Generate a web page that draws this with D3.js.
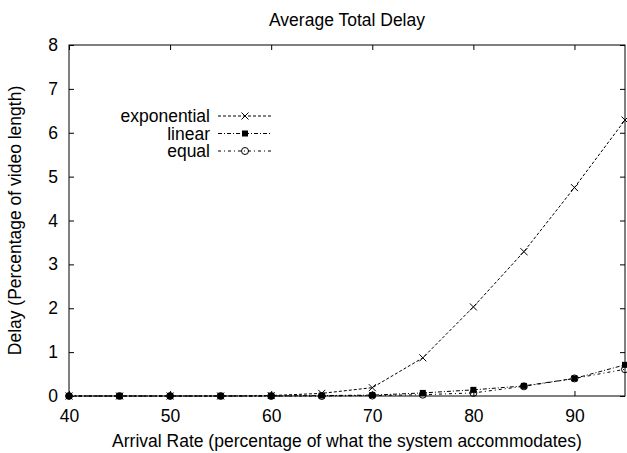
<!DOCTYPE html>
<html>
<head>
<meta charset="utf-8">
<script src="https://cdn.jsdelivr.net/npm/d3@7"></script>
<style>
  body { margin: 0; background: #fff; }
  text { font-family: "Liberation Sans", Arial, sans-serif; fill: #000; }
</style>
</head>
<body>
<svg id="chart" width="627" height="453"></svg>
<script>
// data
var rates = [40, 45, 50, 55, 60, 65, 70, 75, 80, 85, 90, 95];
var exponential = [0, 0, 0, 0, 0.01, 0.06, 0.19, 0.87, 2.03, 3.29, 4.75, 6.29];
var linear = [0, 0, 0, 0, 0, 0.01, 0.02, 0.07, 0.14, 0.23, 0.40, 0.71];
var equal = [0, 0, 0, 0, 0, 0, 0.01, 0.03, 0.07, 0.22, 0.40, 0.61];
var seriesNames = ["exponential", "linear", "equal"];
var xTicks = [40, 50, 60, 70, 80, 90];
var yTicks = [0, 1, 2, 3, 4, 5, 6, 7, 8];

var fs = 17.5;

var svg = d3.select("#chart"),
    margin = {top: 45, right: 2, bottom: 57, left: 69},
    width = +svg.attr("width") - margin.left - margin.right,
    height = +svg.attr("height") - margin.top - margin.bottom,
    g = svg.append("g").attr("transform", "translate(" + margin.left + "," + margin.top + ")");

var x = d3.scaleLinear().domain([40, 95]).range([0, width]);
var y = d3.scaleLinear().domain([0, 8]).range([height, 0]);

var series = [
  {name: seriesNames[0], values: exponential, dash: "3,2", marker: "cross"},
  {name: seriesNames[1], values: linear, dash: "4,2,1,2", marker: "square"},
  {name: seriesNames[2], values: equal, dash: "3,3,1,3", marker: "circle"}
];

// frame and mirrored ticks, gnuplot style
g.append("rect")
    .attr("width", width).attr("height", height)
    .attr("fill", "none").attr("stroke", "#000").attr("stroke-width", 1);

var tl = 5;
g.append("g")
    .attr("transform", "translate(0," + height + ")")
    .call(d3.axisBottom(x).tickValues(xTicks).tickSizeInner(-tl).tickSizeOuter(0).tickPadding(14))
    .call(function(a) { a.select(".domain").remove(); a.selectAll("text").attr("font-size", fs).attr("font-family", "Liberation Sans, Arial, sans-serif"); });
g.append("g")
    .call(d3.axisTop(x).tickValues(xTicks).tickSizeInner(-tl).tickSizeOuter(0).tickFormat(""))
    .call(function(a) { a.select(".domain").remove(); });
g.append("g")
    .call(d3.axisLeft(y).tickValues(yTicks).tickSizeInner(-tl).tickSizeOuter(0).tickPadding(11))
    .call(function(a) { a.select(".domain").remove(); a.selectAll("text").attr("font-size", fs).attr("font-family", "Liberation Sans, Arial, sans-serif"); });
g.append("g")
    .attr("transform", "translate(" + width + ",0)")
    .call(d3.axisRight(y).tickValues(yTicks).tickSizeInner(-tl).tickSizeOuter(0).tickFormat(""))
    .call(function(a) { a.select(".domain").remove(); });

function drawMarker(sel, type) {
  if (type === "cross") {
    sel.append("path").attr("d", "M-3.5,-3.5L3.5,3.5M-3.5,3.5L3.5,-3.5")
      .attr("stroke", "#000").attr("stroke-width", 1).attr("fill", "none");
  } else if (type === "square") {
    sel.append("rect").attr("x", -3).attr("y", -3).attr("width", 6).attr("height", 6).attr("fill", "#000");
  } else {
    sel.append("circle").attr("r", 3.5).attr("fill", "none").attr("stroke", "#000").attr("stroke-width", 1);
  }
}

var line = d3.line()
    .x(function(d, i) { return x(rates[i]); })
    .y(function(d) { return y(d); });

series.forEach(function(s) {
  g.append("path")
      .datum(s.values)
      .attr("d", line)
      .attr("fill", "none")
      .attr("stroke", "#000")
      .attr("stroke-width", 1)
      .attr("stroke-dasharray", s.dash);
  g.selectAll(null)
      .data(s.values)
      .enter().append("g")
      .attr("transform", function(d, i) { return "translate(" + x(rates[i]) + "," + y(d) + ")"; })
      .each(function() { drawMarker(d3.select(this), s.marker); });
});

// legend
var legend = g.selectAll(".legend")
    .data(series)
    .enter().append("g")
    .attr("transform", function(d, i) { return "translate(0," + (71 + i * 17.5) + ")"; });

legend.append("text")
    .attr("x", 141)
    .attr("dy", "0.35em")
    .attr("text-anchor", "end")
    .attr("font-size", fs)
    .text(function(d) { return d.name; });

legend.append("line")
    .attr("x1", 149).attr("x2", 202)
    .attr("stroke", "#000").attr("stroke-width", 1)
    .attr("stroke-dasharray", function(d) { return d.dash; });

legend.append("g")
    .attr("transform", "translate(176,0)")
    .each(function(d) { drawMarker(d3.select(this), d.marker); });

// titles
svg.append("text")
    .attr("x", margin.left + width / 2)
    .attr("y", 26)
    .attr("text-anchor", "middle")
    .attr("font-size", fs)
    .text("Average Total Delay");

svg.append("text")
    .attr("x", margin.left + width / 2)
    .attr("y", 447)
    .attr("text-anchor", "middle")
    .attr("font-size", fs)
    .text("Arrival Rate (percentage of what the system accommodates)");

svg.append("text")
    .attr("transform", "translate(21," + (margin.top + height / 2) + ") rotate(-90)")
    .attr("text-anchor", "middle")
    .attr("font-size", fs)
    .text("Delay (Percentage of video length)");
</script>
</body>
</html>
